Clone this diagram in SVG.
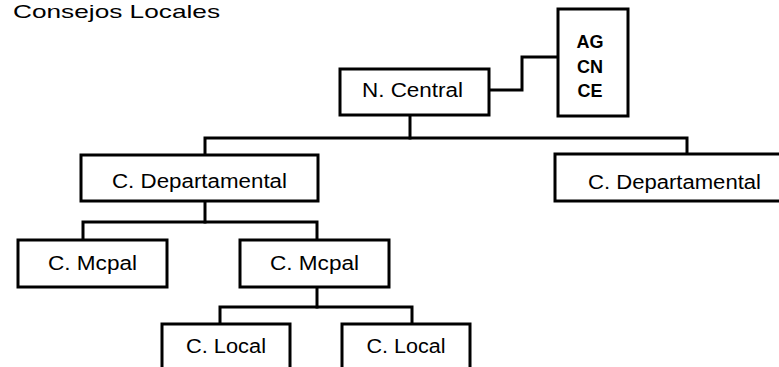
<svg xmlns="http://www.w3.org/2000/svg" width="779" height="367" viewBox="0 0 779 367">
<style>
.box{fill:#fff;stroke:#000;stroke-width:3}
.lbl{font-family:"Liberation Sans","DejaVu Sans",sans-serif;font-size:20px;fill:#000;text-anchor:middle}
.bold{font-family:"Liberation Sans","DejaVu Sans",sans-serif;font-size:18px;font-weight:bold;fill:#000;text-anchor:middle}
.con{fill:none;stroke:#000;stroke-width:3;stroke-linecap:square}
</style>
<rect width="779" height="367" fill="#fff"/>
<text x="13" y="18" font-family="Liberation Sans, DejaVu Sans, sans-serif" font-size="19" textLength="207" lengthAdjust="spacingAndGlyphs">Consejos Locales</text>
<g id="connectors">
<path class="con" d="M489,90 H522 V57 H558"/>
<path class="con" d="M410,115 V138"/>
<path class="con" d="M205,155 V138 H687 V154"/>
<path class="con" d="M205,201 V222"/>
<path class="con" d="M83,240 V222 H317 V240"/>
<path class="con" d="M317,287 V307"/>
<path class="con" d="M220,324 V307 H412 V324"/>
</g>
<g id="n-central">
<rect class="box" x="340" y="69" width="149" height="46"/>
<text class="lbl" x="412.5" y="97" textLength="101" lengthAdjust="spacingAndGlyphs">N. Central</text>
</g>
<g id="ag-cn-ce">
<rect class="box" x="558" y="9" width="70" height="107"/>
<text class="bold" x="590" y="48">AG</text>
<text class="bold" x="590" y="73">CN</text>
<text class="bold" x="590" y="97">CE</text>
</g>
<g id="c-dep-1">
<rect class="box" x="81" y="155" width="237" height="46"/>
<text class="lbl" x="199.5" y="188" textLength="175" lengthAdjust="spacingAndGlyphs">C. Departamental</text>
</g>
<g id="c-dep-2">
<rect class="box" x="555" y="154" width="240" height="47"/>
<text class="lbl" x="674.5" y="189" textLength="173" lengthAdjust="spacingAndGlyphs">C. Departamental</text>
</g>
<g id="c-mcpal-1">
<rect class="box" x="18" y="240" width="149" height="47"/>
<text class="lbl" x="92.5" y="270" textLength="89" lengthAdjust="spacingAndGlyphs">C. Mcpal</text>
</g>
<g id="c-mcpal-2">
<rect class="box" x="240" y="240" width="149" height="47"/>
<text class="lbl" x="314.5" y="270" textLength="89" lengthAdjust="spacingAndGlyphs">C. Mcpal</text>
</g>
<g id="c-local-1">
<rect class="box" x="162" y="324" width="128" height="60"/>
<text class="lbl" x="226" y="353" textLength="80" lengthAdjust="spacingAndGlyphs">C. Local</text>
</g>
<g id="c-local-2">
<rect class="box" x="342" y="324" width="128" height="60"/>
<text class="lbl" x="406" y="353" textLength="79" lengthAdjust="spacingAndGlyphs">C. Local</text>
</g>
</svg>
